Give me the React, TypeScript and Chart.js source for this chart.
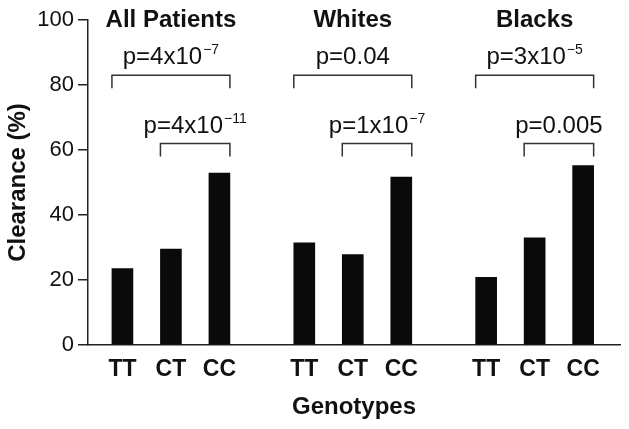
import React, { useEffect, useRef } from 'react';
import { Chart, registerables } from 'chart.js';

Chart.register(...registerables);

const groups = ['All Patients', 'Whites', 'Blacks'];
const genotypes = ['TT', 'CT', 'CC', 'TT', 'CT', 'CC', 'TT', 'CT', 'CC'];
const barPositions = [0, 1, 2, 3.75, 4.75, 5.75, 7.5, 8.5, 9.5];
const clearance = [23.5, 29.5, 52.9, 31.4, 27.8, 51.7, 20.8, 33.0, 55.2];
const yTicks = [0, 20, 40, 60, 80, 100];
const titleLevel = 98;
const bracketFrom = [0, 1, 3, 4, 6, 7];
const bracketTo = [2, 2, 5, 5, 8, 8];
const bracketLevel = [83, 62, 83, 62, 83, 62];
const legDrop = 4;
const pBase = ['p=4x10', 'p=4x10', 'p=0.04', 'p=1x10', 'p=3x10', 'p=0.005'];
const pExp = ['\u22127', '\u221211', '', '\u22127', '\u22125', ''];

const FAMILY = '"Liberation Sans", Arial, Helvetica, sans-serif';
const INK = '#111111';
const BAR_W = 21;

const annotations = {
  id: 'annotations',
  afterDraw(chart: any) {
    const { ctx } = chart;
    const x = chart.scales.x;
    const y = chart.scales.y;
    const half = BAR_W / 2;
    ctx.save();
    ctx.fillStyle = INK;
    ctx.textAlign = 'center';
    ctx.textBaseline = 'alphabetic';
    ctx.font = `bold 24px ${FAMILY}`;
    groups.forEach((g, i) => {
      const cx = (x.getPixelForValue(barPositions[i * 3]) + x.getPixelForValue(barPositions[i * 3 + 2])) / 2;
      ctx.fillText(g, cx, y.getPixelForValue(titleLevel));
    });

    ctx.strokeStyle = '#333333';
    ctx.lineWidth = 1.5;
    for (let k = 0; k < bracketFrom.length; k++) {
      const x1 = x.getPixelForValue(barPositions[bracketFrom[k]]) - half;
      const x2 = x.getPixelForValue(barPositions[bracketTo[k]]) + half;
      const yl = y.getPixelForValue(bracketLevel[k]);
      const yd = y.getPixelForValue(bracketLevel[k] - legDrop);
      ctx.beginPath();
      ctx.moveTo(x1, yd);
      ctx.lineTo(x1, yl);
      ctx.lineTo(x2, yl);
      ctx.lineTo(x2, yd);
      ctx.stroke();

      ctx.font = `24px ${FAMILY}`;
      const w1 = ctx.measureText(pBase[k]).width;
      ctx.font = `14px ${FAMILY}`;
      const w2 = pExp[k] ? ctx.measureText(pExp[k]).width + 1 : 0;
      const start = (x1 + x2) / 2 - (w1 + w2) / 2;
      ctx.textAlign = 'left';
      ctx.font = `24px ${FAMILY}`;
      ctx.fillText(pBase[k], start, yl - 11);
      if (pExp[k]) {
        ctx.font = `14px ${FAMILY}`;
        ctx.fillText(pExp[k], start + w1 + 1, yl - 21);
      }
    }
    ctx.restore();
  },
};

export default function App() {
  const ref = useRef<HTMLCanvasElement | null>(null);
  useEffect(() => {
    if (!ref.current) return;
    const chart = new Chart(ref.current, {
      type: 'bar',
      data: {
        datasets: [
          {
            data: barPositions.map((p, i) => ({ x: p, y: clearance[i] })),
            backgroundColor: '#0a0a0a',
            barThickness: BAR_W,
          },
        ],
      },
      options: {
        responsive: false,
        animation: false,
        layout: { padding: { top: 20, right: 9, left: 0, bottom: 0 } },
        plugins: { legend: { display: false }, tooltip: { enabled: false } },
        scales: {
          x: {
            type: 'linear',
            min: -0.71,
            max: 10.26,
            offset: false,
            grid: { display: false, drawTicks: false },
            border: { display: true, color: '#222222', width: 1.5 },
            afterBuildTicks: (s: any) => {
              s.ticks = barPositions.map((v) => ({ value: v }));
            },
            ticks: {
              callback: (_v: any, i: number) => genotypes[i],
              font: { family: FAMILY, size: 23, weight: 'bold' },
              color: INK,
              padding: 11,
              autoSkip: false,
              maxRotation: 0,
            },
            title: {
              display: true,
              text: 'Genotypes',
              font: { family: FAMILY, size: 24, weight: 'bold' },
              color: INK,
              padding: { top: 0, bottom: 7 },
            },
            afterFit: (s: any) => {
              s.height = 84;
            },
          },
          y: {
            min: 0,
            max: 100,
            grid: { drawOnChartArea: false, drawTicks: true, tickLength: 10, color: '#222222', lineWidth: 1.5 },
            border: { display: true, color: '#222222', width: 1.5 },
            afterBuildTicks: (s: any) => {
              s.ticks = yTicks.map((v) => ({ value: v }));
            },
            ticks: {
              font: { family: FAMILY, size: 22 },
              color: INK,
              padding: 4,
            },
            title: {
              display: true,
              text: 'Clearance (%)',
              font: { family: FAMILY, size: 24, weight: 'bold' },
              color: INK,
              padding: { top: 4, bottom: 0 },
            },
            afterFit: (s: any) => {
              s.width = 88;
            },
          },
        },
      },
      plugins: [annotations],
    } as any);
    return () => chart.destroy();
  }, []);
  return (
    <div style={{ position: 'absolute', left: 0, top: 0, width: 629, height: 429, background: '#fff' }}>
      <canvas ref={ref} width={629} height={429} style={{ display: 'block' }} />
    </div>
  );
}
